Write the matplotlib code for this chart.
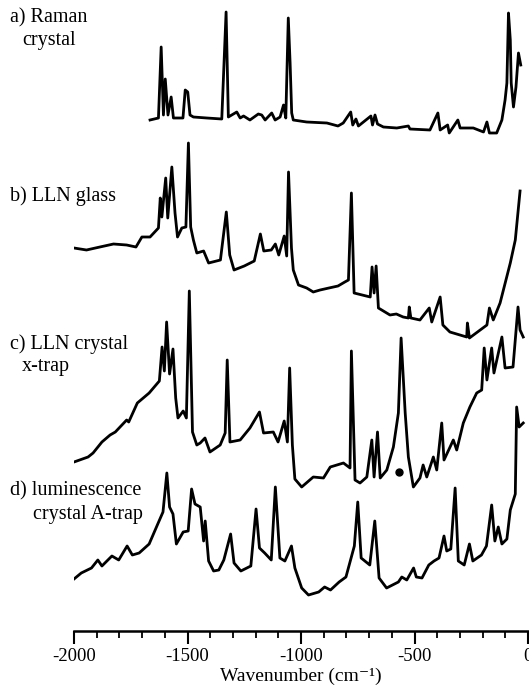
import numpy as np
import matplotlib.pyplot as plt
from matplotlib.ticker import MultipleLocator

plt.rcParams['font.family'] = ['Liberation Serif', 'DejaVu Serif']
plt.rcParams['axes.unicode_minus'] = False

# a) Raman, crystal
a_wn = [-1665, -1628, -1616, -1606, -1598, -1586, -1572, -1562, -1520, -1510,
        -1499, -1489, -1474, -1415, -1349, -1330, -1320, -1283, -1268, -1253,
        -1225, -1188, -1173, -1158, -1129, -1114, -1092, -1077, -1067, -1056,
        -1048, -1041, -1034, -975, -886, -837, -814, -781, -772, -758,
        -747, -692, -685, -674, -663, -637, -578, -527, -520, -432,
        -397, -387, -354, -347, -309, -299, -241, -196, -181, -170,
        -138, -115, -101, -93, -86, -78, -74, -64, -53, -42, -32]
a_int = [8, 10, 81, 13, 49, 13, 31, 10, 10, 38,
         36, 13, 11, 10, 9, 116, 11, 16, 10, 12,
         8, 14, 13, 8, 15, 8, 11, 23, 10, 110,
         65, 15, 8, 6, 5, 2, 5, 16, 3, 9,
         2, 12, 3, 13, 4, 1, 0, 2, -1, -2,
         15, -2, 3, -5, 8, 0, 0, -4, 6, -5,
         -5, 8, 28, 45, 115, 88, 45, 21, 41, 75, 63]

# b) LLN glass
b_wn = [-2000, -1945, -1886, -1826, -1768, -1727, -1701, -1665, -1628, -1620,
        -1613, -1596, -1587, -1569, -1555, -1544, -1525, -1507, -1496, -1486,
        -1474, -1459, -1429, -1407, -1355, -1329, -1314, -1295, -1250, -1206,
        -1179, -1164, -1131, -1113, -1098, -1074, -1063, -1055, -1042, -1034,
        -1011, -975, -946, -916, -877, -837, -807, -791, -778, -766,
        -695, -687, -678, -669, -659, -608, -580, -550, -527, -523,
        -516, -476, -435, -424, -387, -375, -344, -270, -267, -258,
        -181, -170, -153, -123, -78, -56, -35]
b_int = [100, 98, 101, 104, 103, 101, 111, 111, 120, 150,
         131, 170, 130, 181, 135, 111, 120, 121, 205, 121,
         108, 95, 97, 85, 88, 136, 93, 78, 82, 87,
         114, 97, 98, 104, 93, 112, 92, 176, 100, 78,
         63, 60, 56, 58, 60, 62, 66, 68, 155, 55,
         51, 81, 55, 82, 40, 33, 34, 31, 30, 41,
         30, 28, 40, 26, 51, 23, 16, 11, 25, 10,
         23, 40, 28, 45, 85, 108, 157]

# c) LLN crystal, x-trap
c_wn = [-2000, -1938, -1916, -1877, -1841, -1818, -1768, -1759, -1721, -1669,
        -1624, -1612, -1602, -1592, -1579, -1564, -1552, -1542, -1519, -1505,
        -1492, -1478, -1459, -1444, -1423, -1401, -1356, -1334, -1325, -1313,
        -1268, -1225, -1183, -1165, -1122, -1101, -1074, -1060, -1050, -1038,
        -1027, -997, -946, -901, -871, -813, -784, -778, -762, -740,
        -710, -688, -678, -663, -651, -622, -593, -571, -559, -541,
        -527, -505, -476, -462, -446, -417, -402, -380, -370, -329,
        -314, -285, -256, -226, -204, -193, -181, -160, -150, -115,
        -101, -66, -44, -35, -21]
c_int = [26, 31, 35, 46, 53, 56, 68, 66, 85, 95,
         107, 141, 117, 166, 114, 139, 90, 70, 77, 70,
         197, 56, 43, 45, 50, 36, 43, 55, 128, 46,
         48, 60, 76, 55, 56, 46, 67, 46, 120, 43,
         9, 1, 11, 10, 21, 25, 20, 137, 8, 5,
         11, 48, 11, 56, 10, 18, 41, 75, 150, 75,
         31, 1, 10, 23, 11, 31, 18, 65, 28, 48,
         38, 65, 81, 95, 98, 140, 108, 140, 115, 151,
         120, 121, 181, 158, 151]
c_dot = (-567, 16)

# d) luminescence, crystal A-trap
d_wn = [-2000, -1968, -1923, -1895, -1877, -1833, -1803, -1766, -1743, -1713,
        -1669, -1631, -1608, -1591, -1579, -1564, -1549, -1519, -1497, -1482,
        -1467, -1444, -1429, -1422, -1407, -1385, -1362, -1340, -1310, -1295,
        -1265, -1221, -1198, -1183, -1160, -1131, -1113, -1093, -1071, -1042,
        -1027, -997, -967, -922, -896, -870, -832, -802, -765, -750,
        -735, -697, -675, -656, -623, -571, -556, -534, -504, -492,
        -467, -437, -414, -392, -370, -358, -340, -321, -307, -281,
        -258, -243, -205, -183, -160, -146, -131, -115, -93, -78,
        -56, -50, -39, -21]
d_int = [19, 25, 30, 38, 32, 42, 38, 52, 43, 45,
         54, 74, 86, 125, 91, 84, 54, 66, 67, 109,
         94, 91, 57, 77, 37, 27, 28, 38, 64, 35,
         27, 32, 89, 50, 45, 38, 111, 40, 37, 52,
         30, 10, 3, 6, 11, 8, 16, 21, 52, 96,
         40, 33, 77, 20, 10, 16, 21, 18, 30, 21,
         20, 33, 37, 40, 62, 47, 49, 110, 37, 33,
         54, 37, 43, 52, 93, 57, 71, 54, 59, 88,
         104, 191, 171, 175]

spectra = [(a_wn, a_int), (b_wn, b_int), (c_wn, c_int), (d_wn, d_int)]
offsets = [503, 283, 143, 33]

labels = [("a) Raman", "crystal"), ("b) LLN glass", None),
          ("c) LLN crystal", "x-trap"), ("d) luminescence", "crystal A-trap")]
label_y = [613, 435, 287, 140]
indent = [-1940, None, -1940, -1890]

fig = plt.figure(figsize=(5.29, 6.87), dpi=100)
ax = fig.add_axes([74 / 529, 56 / 687, 454 / 529, 631 / 687])

for (wn, inten), off in zip(spectra, offsets):
    ax.plot(wn, np.array(inten) + off, color="black", lw=2.0,
            solid_joinstyle="round")

ax.plot(c_dot[0], c_dot[1] + offsets[2], "o", color="black", ms=5)

for (l1, l2), y, x2 in zip(labels, label_y, indent):
    ax.text(-2280, y, l1, fontsize=14.5, va="center", ha="left", clip_on=False)
    if l2:
        ax.text(x2 - 290, y - 23, l2, fontsize=14.5, va="center", ha="left",
                clip_on=False)

ax.set_xlim(-2000, 0)
ax.set_ylim(0, 631)
ax.xaxis.set_major_locator(MultipleLocator(500))
ax.xaxis.set_minor_locator(MultipleLocator(100))
ax.set_xticks([-2000, -1500, -1000, -500, 0])
ax.set_xticklabels(["-2000", "-1500", "-1000", "-500", "0"])
ax.tick_params(axis="x", which="major", direction="out", length=9, width=1.5,
               labelsize=13.5, pad=3)
ax.tick_params(axis="x", which="minor", direction="out", length=5, width=1.3)
ax.set_yticks([])
for side in ("left", "right", "top"):
    ax.spines[side].set_visible(False)
ax.spines["bottom"].set_linewidth(1.8)
ax.set_xlabel("Wavenumber (cm\u207b\u00b9)", fontsize=14, labelpad=2)

fig.savefig("out.png", dpi=100)
